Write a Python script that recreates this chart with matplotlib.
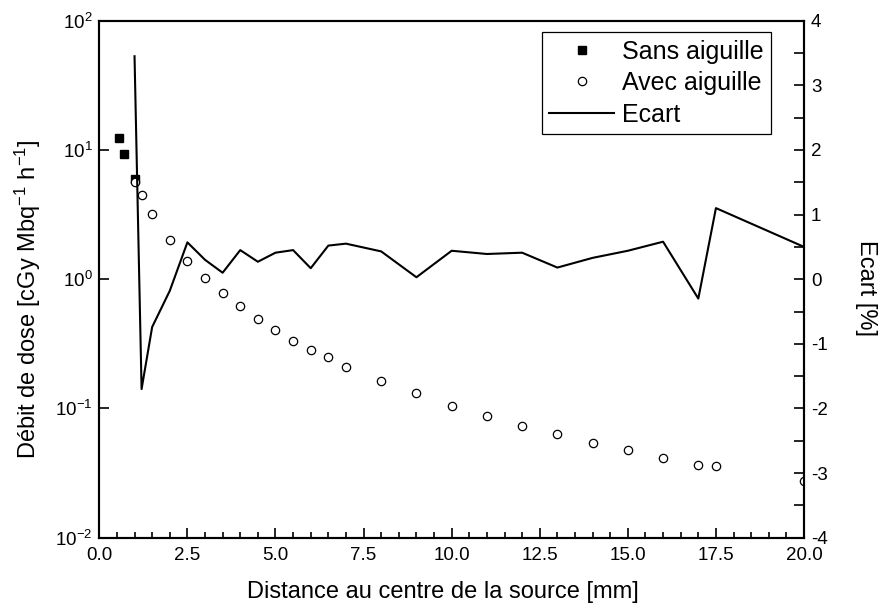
import numpy as np
import matplotlib
matplotlib.use("Agg")
import matplotlib.pyplot as plt
from matplotlib.ticker import MultipleLocator, NullLocator, FormatStrFormatter
from matplotlib.lines import Line2D

plt.rcParams["font.family"] = ["Liberation Sans", "DejaVu Sans"]
plt.rcParams["mathtext.fontset"] = "custom"
plt.rcParams["mathtext.rm"] = "Liberation Sans"
plt.rcParams["mathtext.it"] = "Liberation Sans:italic"
plt.rcParams["mathtext.bf"] = "Liberation Sans:bold"
plt.rcParams["axes.unicode_minus"] = False

# sans aiguille (visible points only)
x_sans = [0.57, 0.70, 1.0]
dose_sans = [12.3, 9.35, 5.93]

# avec aiguille
x_avec = [1.0, 1.2, 1.5, 2.0, 2.5, 3.0, 3.5, 4.0, 4.5, 5.0, 5.5, 6.0, 6.5, 7.0,
          8, 9, 10, 11, 12, 13, 14, 15, 16, 17, 17.5, 20]
dose_avec = [5.62, 4.51, 3.19, 2.0, 1.38, 1.02, 0.78, 0.617, 0.492, 0.403, 0.333,
             0.285, 0.249, 0.210, 0.163, 0.131, 0.105, 0.088, 0.073, 0.0634,
             0.0543, 0.0474, 0.0416, 0.0363, 0.0356, 0.0275]

# ecart [%]
ecart = [3.45, -1.70, -0.74, -0.18, 0.57, 0.30, 0.10, 0.45, 0.27, 0.41, 0.45,
         0.17, 0.52, 0.55, 0.43, 0.03, 0.44, 0.39, 0.41, 0.18, 0.33, 0.44,
         0.58, -0.30, 1.10, 0.50]

TICK_FS = 13.5
LABEL_FS = 17

fig, ax = plt.subplots(figsize=(8.85, 6.12), dpi=100)
fig.subplots_adjust(left=0.1122, right=0.9085, bottom=0.1214, top=0.9662)

ax.plot(x_sans, dose_sans, ls="none", marker="s", ms=5.2, mfc="black", mec="black",
        label="Sans aiguille", zorder=2)
ax.plot(x_avec, dose_avec, ls="none", marker="o", ms=6, mfc="white", mec="black",
        mew=0.9, label="Avec aiguille", zorder=3)

ax.set_yscale("log")
ax.set_ylim(1e-2, 1e2)
ax.set_xlim(0, 20)
ax.yaxis.set_minor_locator(NullLocator())
ax.xaxis.set_major_locator(MultipleLocator(2.5))
ax.xaxis.set_minor_locator(MultipleLocator(0.5))
ax.xaxis.set_major_formatter(FormatStrFormatter("%.1f"))

ax.set_xlabel("Distance au centre de la source [mm]", fontsize=LABEL_FS, va="top")
ax.xaxis.set_label_coords(0.487, -0.084)
ax.set_ylabel("Débit de dose [cGy Mbq$^{-1}$ h$^{-1}$]", fontsize=LABEL_FS)
ax.yaxis.set_label_coords(-0.08, 0.462)

ax2 = ax.twinx()
ax2.plot(x_avec, ecart, color="black", lw=1.5, label="Ecart")
ax2.set_ylim(-4, 4)
ax2.yaxis.set_major_locator(MultipleLocator(1))
ax2.yaxis.set_minor_locator(MultipleLocator(0.5))
ax2.set_ylabel("Ecart [%]", fontsize=LABEL_FS, rotation=-90, va="bottom")
ax2.yaxis.set_label_coords(1.073, 0.483)

for a in (ax, ax2):
    for s in a.spines.values():
        s.set_linewidth(1.5)

ax.tick_params(axis="both", which="major", direction="in", length=7.5, width=1.2,
               labelsize=TICK_FS, pad=5)
ax.tick_params(axis="x", which="minor", direction="in", length=4.3, width=1.2)
ax.tick_params(axis="x", which="major", pad=7)
ax.tick_params(top=False, right=False, which="both")
ax2.tick_params(axis="y", which="major", direction="in", length=7.5, width=1.2,
                labelsize=TICK_FS, pad=5)
ax2.tick_params(axis="y", which="minor", direction="in", length=7.5, width=1.2)

handles = [
    Line2D([], [], ls="none", marker="s", ms=5.2, mfc="black", mec="black"),
    Line2D([], [], ls="none", marker="o", ms=6, mfc="white", mec="black", mew=0.9),
    Line2D([], [], color="black", lw=1.5),
]
leg = ax2.legend(handles, ["Sans aiguille", "Avec aiguille", "Ecart"],
                 loc="upper right", bbox_to_anchor=(0.953, 0.978), fontsize=18,
                 frameon=True, fancybox=False, framealpha=1, edgecolor="black",
                 handlelength=2.6, handletextpad=0.3, labelspacing=0.3,
                 borderpad=0.3, borderaxespad=0)
leg.get_frame().set_linewidth(0.9)

fig.savefig("out.png", dpi=100)
